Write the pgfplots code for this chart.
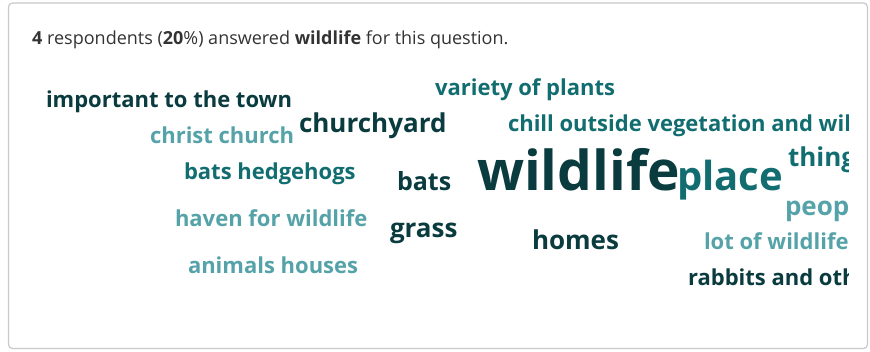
\documentclass[border=0pt]{standalone}
\usepackage{fontspec}
\setmainfont{Open Sans}
\usepackage{pgfplots}
\pgfplotsset{compat=1.18}
\definecolor{dk}{HTML}{0A3B3E}
\definecolor{md}{HTML}{116D6F}
\definecolor{lt}{HTML}{55A3A8}
\definecolor{frame}{HTML}{C8C8C8}
\definecolor{ttl}{HTML}{333333}

\pgfplotsset{
  word/.style 2 args={draw=none, mark=none, nodes near coords,
    point meta=explicit symbolic,
    nodes near coords style={anchor=base west, inner sep=0pt, outer sep=0pt,
      font=\bfseries\fontsize{#1}{#1}\selectfont, text=#2}},
}

\begin{document}
\begin{tikzpicture}
\useasboundingbox (0,0) rectangle (870pt,351pt);
\draw[frame, line width=1.2pt, rounded corners=4pt] (8.5pt,2.5pt) rectangle (867.5pt,348pt);
\node[anchor=base west, inner sep=0pt, text=ttl, font=\fontsize{18}{21}\selectfont] at (32pt,306pt)
  {\textbf{4} respondents (\textbf{20}\%) answered \textbf{wildlife} for this question.};
\begin{scope}
\clip (0,0) rectangle (848pt,351pt);
\begin{axis}[
  at={(0,0)}, anchor=south west,
  scale only axis, width=870pt, height=351pt,
  xmin=0, xmax=870, ymin=0, ymax=351, y dir=reverse,
  hide axis, clip=false,
]
% x = left edge (px), y = baseline (px from top)
\addplot[word={55}{dk}] table[col sep=comma, meta=label]{
x,y,label
477,190,wildlife
};
\addplot[word={40}{md}] table[col sep=comma, meta=label]{
x,y,label
677,190,place
};
\addplot[word={26}{dk}] table[col sep=comma, meta=label]{
x,y,label
299,132,churchyard
390,237,grass
};
\addplot[word={25}{dk}] table[col sep=comma, meta=label]{
x,y,label
397,190,bats
};
\addplot[word={26}{md}] table[col sep=comma, meta=label]{
x,y,label
788,166,things
};
\addplot[word={26}{lt}] table[col sep=comma, meta=label]{
x,y,label
785,215,people
};
\addplot[word={26}{dk}] table[col sep=comma, meta=label]{
x,y,label
532,249,homes
};
\addplot[word={22}{dk}] table[col sep=comma, meta=label]{
x,y,label
46,107,important to the town
688,285,rabbits and other
};
\addplot[word={22}{md}] table[col sep=comma, meta=label]{
x,y,label
435,95,variety of plants
508,131,chill outside vegetation and wildlife
184,179,bats hedgehogs
};
\addplot[word={22}{lt}] table[col sep=comma, meta=label]{
x,y,label
150,143,christ church
175,226,haven for wildlife
188,273,animals houses
704,249,lot of wildlife
};
\end{axis}
\end{scope}
\end{tikzpicture}
\end{document}
